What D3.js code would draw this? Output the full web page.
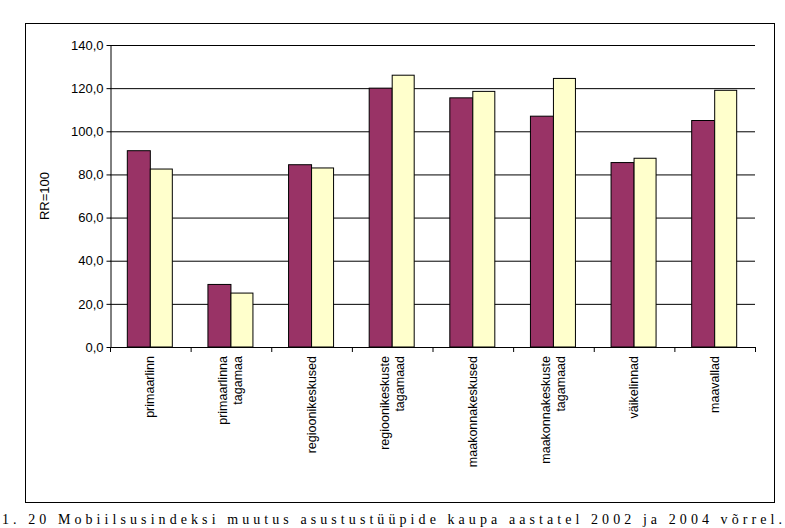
<!DOCTYPE html>
<html lang="et">
<head>
<meta charset="UTF-8">
<script src="https://d3js.org/d3.v7.min.js"></script>
<style>
  body { margin: 0; background: #fff; }
  svg { font-family: "Liberation Sans", Arial, sans-serif; }
</style>
</head>
<body>
<svg width="785" height="528"></svg>
<script>
const categories = [
  ["primaarlinn"],
  ["primaarlinna", "tagamaa"],
  ["regioonikeskused"],
  ["regioonikeskuste", "tagamaad"],
  ["maakonnakeskused"],
  ["maakonnakeskuste", "tagamaad"],
  ["väikelinnad"],
  ["maavallad"]
];
const series1 = [91.0, 29.0, 84.5, 120.0, 115.5, 107.0, 85.5, 105.0];
const series2 = [82.5, 25.0, 83.0, 126.0, 118.5, 124.5, 87.5, 119.0];
const yTicks = [0, 20, 40, 60, 80, 100, 120, 140];

const svg = d3.select("svg");
const margin = { left: 110, right: 755, top: 45, bottom: 347 };

// outer frame
svg.append("rect")
   .attr("x", 25.5).attr("y", 23.5)
   .attr("width", 749).attr("height", 479)
   .attr("fill", "none").attr("stroke", "#000").attr("stroke-width", 1);

const x = d3.scaleBand()
            .domain(d3.range(categories.length))
            .range([margin.left, margin.right]);

const y = d3.scaleLinear()
            .domain([0, 140])
            .range([margin.bottom, margin.top]);

// gridlines
svg.append("g")
   .selectAll("line")
   .data(yTicks.slice(1))
   .enter().append("line")
   .attr("x1", margin.left).attr("x2", margin.right)
   .attr("y1", d => y(d) + 0.5).attr("y2", d => y(d) + 0.5)
   .attr("stroke", "#000");

// bars
const barW = 23;
const groups = svg.append("g");
categories.forEach((c, i) => {
  const cx = x(i) + x.bandwidth() / 2;
  groups.append("rect")
        .attr("x", cx - barW).attr("y", y(series1[i]))
        .attr("width", barW).attr("height", y(0) - y(series1[i]))
        .attr("fill", "#993366").attr("stroke", "#000").attr("stroke-width", 1);
  groups.append("rect")
        .attr("x", cx).attr("y", y(series2[i]))
        .attr("width", barW - 1).attr("height", y(0) - y(series2[i]))
        .attr("fill", "#FFFFCC").attr("stroke", "#000").attr("stroke-width", 1);
});

// y axis
svg.append("g")
   .attr("transform", `translate(${margin.left + 0.5},0)`)
   .call(d3.axisLeft(y).tickValues(yTicks).tickSize(4).tickSizeOuter(0)
           .tickFormat(d => d3.format(".1f")(d).replace(".", ",")))
   .call(g => g.select(".domain").attr("stroke", "#000"))
   .call(g => g.selectAll("text").style("font-size", "13px")
               .style("font-family", "Liberation Sans, Arial, sans-serif").attr("fill", "#000"));

// x axis line with ticks at category boundaries
svg.append("line")
   .attr("x1", margin.left).attr("x2", margin.right)
   .attr("y1", margin.bottom + 0.5).attr("y2", margin.bottom + 0.5)
   .attr("stroke", "#000");
svg.append("g")
   .selectAll("line")
   .data(d3.range(categories.length + 1))
   .enter().append("line")
   .attr("x1", d => margin.left + d * x.step() + 0.5)
   .attr("x2", d => margin.left + d * x.step() + 0.5)
   .attr("y1", margin.bottom).attr("y2", margin.bottom + 5)
   .attr("stroke", "#000");

// category labels
categories.forEach((c, i) => {
  const cx = x(i) + x.bandwidth() / 2;
  const n = c.length;
  const t = svg.append("text")
     .attr("transform", `translate(${cx},356) rotate(-90)`)
     .attr("text-anchor", "end")
     .style("font-size", "12.5px");
  c.forEach((line, k) => {
    t.append("tspan")
     .attr("x", 0)
     .attr("y", (k - (n - 1) / 2) * 15 + 4)
     .text(line);
  });
});

// y axis title
svg.append("text")
   .attr("transform", `translate(49,${(margin.top + margin.bottom) / 2}) rotate(-90)`)
   .attr("text-anchor", "middle")
   .style("font-size", "13px")
   .text("RR=100");

// caption
svg.append("text")
   .attr("x", 2).attr("y", 524)
   .attr("textLength", 780)
   .attr("lengthAdjust", "spacing")
   .style("font-family", "Liberation Serif, Times New Roman, serif")
   .style("font-size", "14px")
   .text("1. 20 Mobiilsusindeksi muutus asustustüüpide kaupa aastatel 2002 ja 2004 võrrel.");
</script>
</body>
</html>
